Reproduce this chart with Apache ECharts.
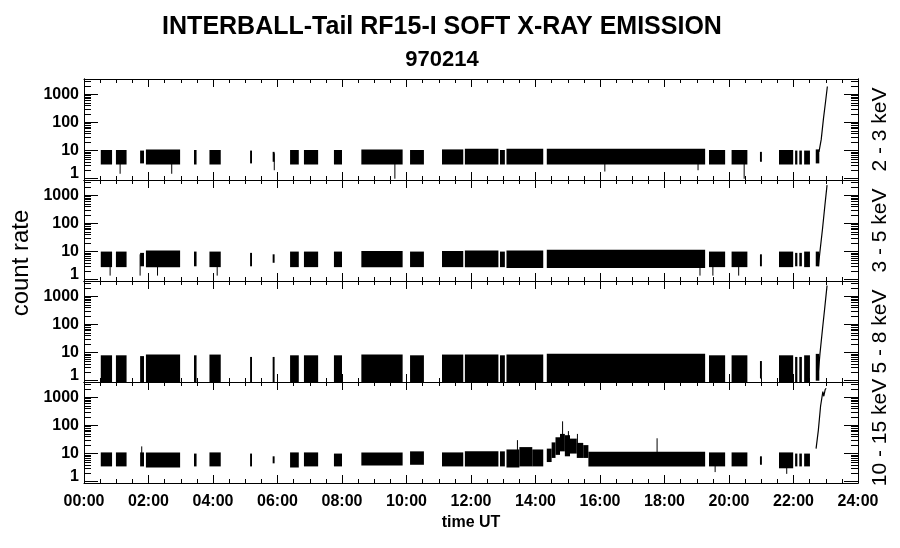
<!DOCTYPE html>
<html>
<head>
<meta charset="utf-8">
<title>INTERBALL-Tail RF15-I SOFT X-RAY EMISSION 970214</title>
<script src="https://cdn.jsdelivr.net/npm/echarts@6/dist/echarts.min.js"></script>
<style>
  html, body { margin: 0; padding: 0; background: #fff; }
  #chart { width: 900px; height: 548px; }
</style>
</head>
<body>
<div id="chart"></div>
<script>
// energy channels, one panel each (top to bottom)
const channels = ['2 - 3 keV', '3 - 5 keV', '5 - 8 keV', '10 - 15 keV'];

// axis ticks
const yMajor = [1, 10, 100, 1000];
const yMinor = [2, 3, 4, 5, 6, 7, 8, 9, 20, 30, 40, 50, 60, 70, 80, 90,
                200, 300, 400, 500, 600, 700, 800, 900, 2000, 3000];

// noisy count-rate bands: [start h, end h, low, high]
const band23 = [
  [0.52, 0.87, 3.2, 10.5], [0.99, 1.32, 3.2, 10.5], [1.74, 1.86, 3.5, 10], [1.92, 2.98, 3.2, 11],
  [3.41, 3.49, 3.2, 10.5], [3.89, 4.24, 3.2, 10.5], [5.15, 5.21, 3.5, 10], [5.85, 5.91, 4, 9],
  [6.39, 6.66, 3.2, 10.5], [6.82, 7.26, 3.2, 10.5], [7.75, 8.0, 3.2, 10.5], [8.6, 9.88, 3.2, 11],
  [10.11, 10.54, 3.2, 10.5], [11.1, 11.76, 3.2, 11], [11.81, 12.85, 3.2, 11.5], [12.9, 13.05, 3.2, 10.5],
  [13.1, 14.24, 3.2, 11.5], [14.35, 19.26, 3.2, 11.5], [19.38, 19.88, 3.2, 10.5], [20.08, 20.57, 3.2, 10.5],
  [20.96, 21.02, 4, 9], [21.55, 21.99, 3.2, 10.5], [22.05, 22.12, 3.2, 10], [22.18, 22.26, 3.2, 10],
  [22.33, 22.51, 3.2, 10], [22.69, 22.8, 3.5, 11]
];
const band35 = [
  [0.52, 0.87, 2.8, 10], [0.99, 1.32, 2.8, 10], [1.74, 1.86, 3, 9], [1.92, 2.98, 2.8, 11],
  [3.41, 3.49, 3, 10], [3.89, 4.24, 2.8, 10], [5.15, 5.21, 3, 9], [5.85, 5.91, 4, 8],
  [6.39, 6.66, 2.8, 10], [6.82, 7.26, 2.8, 10], [7.75, 8.0, 2.8, 10], [8.6, 9.88, 2.8, 10.5],
  [10.11, 10.54, 2.8, 10], [11.1, 11.76, 2.8, 10.5], [11.81, 12.85, 2.8, 11], [12.9, 13.05, 2.8, 10],
  [13.1, 14.24, 2.6, 11], [14.35, 19.26, 2.6, 11.5], [19.38, 19.88, 2.8, 10], [20.08, 20.57, 2.8, 10],
  [20.96, 21.02, 3, 8], [21.55, 21.99, 2.8, 10], [22.05, 22.12, 3, 9], [22.18, 22.26, 3, 9],
  [22.33, 22.51, 2.8, 10], [22.69, 22.8, 3, 10]
];
const band58 = [
  [0.52, 0.87, 0.9, 8], [0.99, 1.32, 0.9, 8], [1.74, 1.86, 0.9, 7.5], [1.92, 2.98, 0.9, 8.5],
  [3.41, 3.49, 0.9, 8], [3.89, 4.24, 0.9, 8.5], [5.15, 5.21, 0.9, 7], [5.85, 5.91, 0.9, 7],
  [6.39, 6.66, 0.9, 8], [6.82, 7.26, 0.9, 8], [7.75, 8.0, 0.9, 8], [8.6, 9.88, 0.9, 8.5],
  [10.11, 10.54, 0.9, 8], [11.1, 11.76, 0.9, 8.5], [11.81, 12.85, 0.9, 8.5], [12.9, 13.05, 0.9, 8],
  [13.1, 14.24, 0.9, 8.5], [14.35, 19.26, 0.9, 9], [19.38, 19.88, 0.9, 8], [20.08, 20.57, 0.9, 8],
  [20.96, 21.02, 1.2, 5], [21.55, 21.99, 0.9, 8], [22.05, 22.12, 0.9, 7], [22.18, 22.26, 0.9, 7],
  [22.33, 22.51, 0.9, 8], [22.69, 22.8, 1, 9]
];
const band1015 = [
  [0.52, 0.87, 3.5, 11], [0.99, 1.32, 3.5, 11], [1.74, 1.86, 3.5, 11], [1.92, 2.98, 3.2, 11],
  [3.41, 3.49, 3.5, 10], [3.89, 4.24, 3.5, 11], [5.15, 5.21, 3.5, 10], [5.85, 5.91, 4.5, 8],
  [6.39, 6.66, 3.2, 11], [6.82, 7.26, 3.5, 11], [7.75, 8.0, 3.5, 10], [8.6, 9.88, 3.8, 11],
  [10.11, 10.54, 4, 12], [11.1, 11.76, 3.5, 11], [11.81, 12.85, 3.5, 12], [12.9, 13.05, 3.5, 12],
  [13.1, 13.5, 3.2, 14], [13.5, 13.9, 3.5, 17], [13.9, 14.24, 3.5, 14],
  [14.35, 14.5, 5, 15], [14.5, 14.62, 7, 25], [14.62, 14.76, 9, 38], [14.76, 14.91, 12, 50],
  [14.91, 15.07, 8, 45], [15.07, 15.28, 10, 34], [15.28, 15.48, 7, 24], [15.48, 15.64, 7, 20],
  [15.64, 19.26, 3.5, 11.5], [19.38, 19.88, 3.5, 11], [20.08, 20.57, 3.5, 11],
  [20.96, 21.02, 4, 8], [21.55, 21.99, 3, 11], [22.05, 22.12, 3.5, 10], [22.18, 22.26, 3.5, 10],
  [22.33, 22.51, 3.5, 10]
];

// isolated spikes: [time h, low, high]
const spikes23 = [[1.12, 1.5, 9], [2.72, 1.5, 9], [5.9, 2, 8], [9.64, 1, 8], [16.15, 1.8, 8], [19.04, 2, 8], [20.47, 1, 8]];
const spikes35 = [[0.81, 1.4, 8], [1.74, 1.4, 8], [2.28, 1.4, 8], [4.13, 1.4, 8], [19.1, 1.4, 8], [19.5, 1.4, 8], [20.3, 1.4, 8]];
const spikes58 = [];
const spikes1015 = [[1.79, 5, 18], [13.44, 5, 30], [14.84, 30, 140], [15.02, 20, 63], [15.3, 15, 50],
                    [17.77, 8, 35], [19.57, 2.2, 8], [21.79, 1.9, 8]];

// final steep rise of the count rate: [time h, counts]
const rise23 = [[22.79, 9], [22.86, 25], [22.93, 140], [22.99, 500], [23.05, 1900]];
const rise35 = [[22.77, 3], [22.82, 10], [22.9, 65], [22.97, 400], [23.04, 2300]];
const rise58 = [[22.77, 2], [22.82, 9], [22.9, 70], [22.97, 400], [23.04, 2400]];
const rise1015 = [[22.7, 15], [22.77, 67], [22.84, 490], [22.91, 1600], [22.94, 1090], [22.98, 1850], [23.01, 2100]];

const bands = [band23, band35, band58, band1015];
const spikes = [spikes23, spikes35, spikes58, spikes1015];
const rises = [rise23, rise35, rise58, rise1015];

const FONT = '"Liberation Sans", Arial, sans-serif';
const PANEL_TOP = 79, PANEL_H = 101;

const chart = echarts.init(document.getElementById('chart'), null, { renderer: 'canvas' });

const grids = channels.map((c, i) => ({ left: 84, width: 774, top: PANEL_TOP + i * PANEL_H, height: PANEL_H }));

const xAxes = [];
channels.forEach((c, i) => {
  ['bottom', 'top'].forEach(pos => {
    xAxes.push({
      type: 'value', gridIndex: i, position: pos, min: 0, max: 24, interval: 2,
      axisLine: { show: true, onZero: false, lineStyle: { color: '#000', width: 1 } },
      axisTick: { show: true, inside: true, length: 8, lineStyle: { color: '#000', width: 1 } },
      minorTick: { show: true, splitNumber: 4, length: 4, lineStyle: { color: '#000', width: 1 } },
      splitLine: { show: false },
      axisLabel: {
        show: pos === 'bottom' && i === channels.length - 1,
        formatter: v => String(v).padStart(2, '0') + ':00',
        margin: 11, color: '#000', fontSize: 16, fontWeight: 'bold', fontFamily: FONT
      }
    });
  });
});

// four log axes per panel: left/right, major/minor ticks
const yAxes = [];
channels.forEach((c, i) => {
  [['left', yMajor, 14], ['left', yMinor, 7], ['right', yMajor, 14], ['right', yMinor, 7]].forEach(([pos, vals, len], k) => {
    yAxes.push({
      type: 'log', logBase: 10, gridIndex: i, position: pos, min: 0.9, max: 3500,
      axisLine: { show: true, onZero: false, lineStyle: { color: '#000', width: 1 } },
      axisTick: { show: true, inside: true, length: len, customValues: vals, lineStyle: { color: '#000', width: 1 } },
      minorTick: { show: false },
      splitLine: { show: false },
      axisLabel: {
        show: k === 0, customValues: yMajor, margin: 5,
        formatter: v => v === 1 ? '{low|1}' : String(v),
        color: '#000', fontSize: 16, fontWeight: 'bold', fontFamily: FONT,
        rich: { low: { fontSize: 16, fontWeight: 'bold', fontFamily: FONT, color: '#000', padding: [0, 0, 10, 0] } }
      }
    });
  });
});

function renderBand(params, api) {
  const p0 = api.coord([api.value(0), api.value(3)]);
  const p1 = api.coord([api.value(1), api.value(2)]);
  return {
    type: 'rect',
    shape: { x: p0[0], y: p0[1], width: Math.max(p1[0] - p0[0], 1.5), height: p1[1] - p0[1] },
    style: { fill: '#000' }
  };
}

function renderSpike(params, api) {
  const p0 = api.coord([api.value(0), api.value(2)]);
  const p1 = api.coord([api.value(0), api.value(1)]);
  return {
    type: 'line',
    shape: { x1: p0[0], y1: p0[1], x2: p1[0], y2: p1[1] },
    style: { stroke: '#000', lineWidth: 1 }
  };
}

const series = [];
channels.forEach((c, i) => {
  series.push({
    type: 'custom', name: c + ' band', xAxisIndex: i * 2, yAxisIndex: i * 4,
    renderItem: renderBand, encode: { x: [0, 1], y: [2, 3] }, data: bands[i], silent: true
  });
  series.push({
    type: 'custom', name: c + ' spikes', xAxisIndex: i * 2, yAxisIndex: i * 4,
    renderItem: renderSpike, encode: { x: 0, y: [1, 2] }, data: spikes[i], silent: true
  });
  series.push({
    type: 'line', name: c + ' rise', xAxisIndex: i * 2, yAxisIndex: i * 4,
    data: rises[i], showSymbol: false, symbol: 'none',
    lineStyle: { color: '#000', width: 1.2 }, silent: true
  });
});

const options = {
  animation: false,
  backgroundColor: '#fff',
  grid: grids,
  xAxis: xAxes,
  yAxis: yAxes,
  series: series,
  graphic: [
    { type: 'text', x: 442, y: 27, style: { text: 'INTERBALL-Tail RF15-I SOFT X-RAY EMISSION', font: 'bold 25px ' + FONT, fill: '#000', align: 'center', verticalAlign: 'middle' } },
    { type: 'text', x: 442, y: 60, style: { text: '970214', font: 'bold 22px ' + FONT, fill: '#000', align: 'center', verticalAlign: 'middle' } },
    { type: 'text', x: 21, y: 263, rotation: Math.PI / 2, style: { text: 'count rate', font: '24px ' + FONT, fill: '#000', align: 'center', verticalAlign: 'middle' } },
    { type: 'text', x: 471, y: 523, style: { text: 'time UT', font: 'bold 16px ' + FONT, fill: '#000', align: 'center', verticalAlign: 'middle' } }
  ].concat(channels.map((c, i) => ({
    type: 'text', x: 880, y: PANEL_TOP + i * PANEL_H + PANEL_H / 2, rotation: Math.PI / 2,
    style: { text: c, font: '21px ' + FONT, fill: '#000', align: 'center', verticalAlign: 'middle' }
  })))
};

chart.setOption(options);
</script>
</body>
</html>
